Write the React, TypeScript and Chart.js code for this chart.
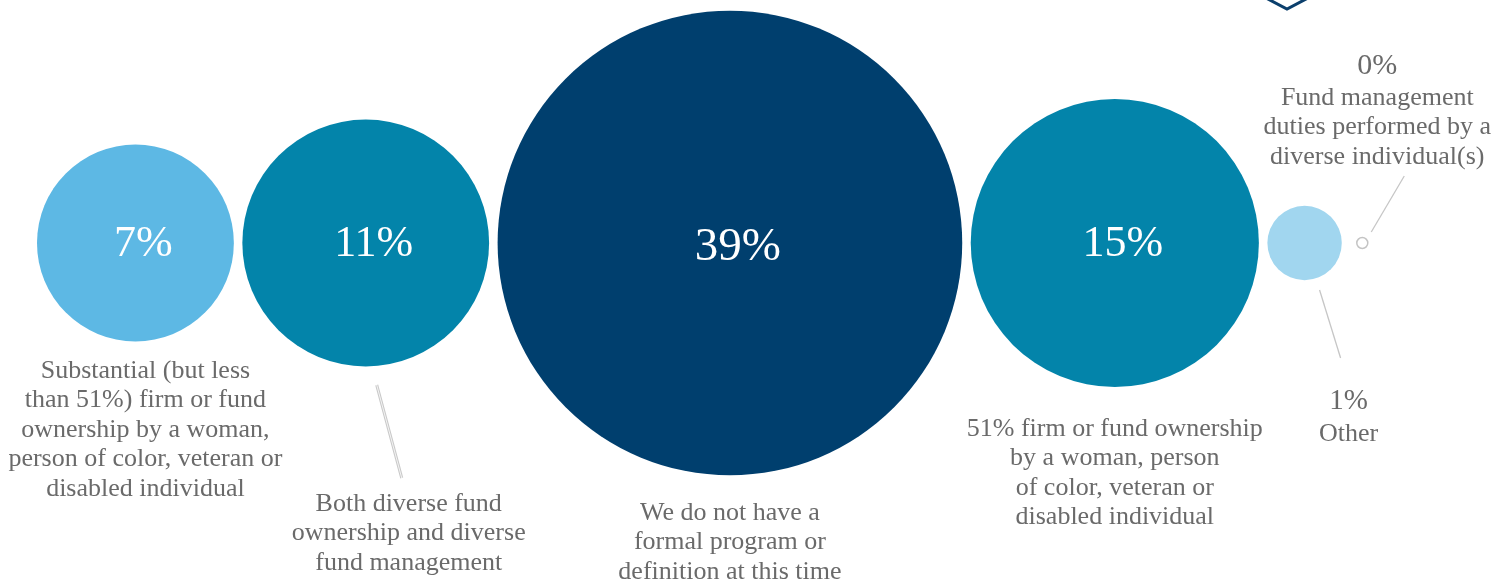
import { useEffect, useRef } from "react";
import { Chart, registerables } from "chart.js";
Chart.register(...registerables);

// ---- data ----
const categories: string[][] = [
  ["Substantial (but less", "than 51%) firm or fund", "ownership by a woman,", "person of color, veteran or", "disabled individual"],
  ["Both diverse fund", "ownership and diverse", "fund management"],
  ["We do not have a", "formal program or", "definition at this time"],
  ["51% firm or fund ownership", "by a woman, person", "of color, veteran or", "disabled individual"],
  ["Other"],
  ["Fund management", "duties performed by a", "diverse individual(s)"],
];
const values = [7, 11, 39, 15, 1, 0];
const valueLabels = ["7%", "11%", "39%", "15%", "1%", "0%"];

// ---- styles / layout ----
const fillColors = ["#5db8e4", "#0384aa", "#003f6e", "#0384aa", "#a1d6ef", "#ffffff"];
const W = 1510;
const H = 584;
const K = 37.2; // px radius per sqrt(percent): area proportional to value
const GAP = 8.5;
const LEFT = 37;
const CY = 243;
const ZERO_R = 5.5;
const ZERO_GAP = 15;
const FONT = "'Liberation Serif', 'DejaVu Serif', serif";
const TEXT = "#6a6a6a";
const LINE_H = 29.5;
const LABEL_SIZE = 26;

// label placement relative to each bubble centre
const labelLayout = [
  { inside: true, dx: 10, dy: 128 },
  { inside: true, dx: 43, dy: 261 },
  { inside: true, dx: 0, dy: 270 },
  { inside: true, dx: 0, dy: 186 },
  { inside: false, dx: 44, dy: 158, pctSize: 29, textDy: 191 },
  { inside: false, dx: 15, dy: -177, pctSize: 30, textDy: -145 },
];
const leaders: ({ x1: number; y1: number; x2: number; y2: number; double?: boolean } | null)[] = [
  null,
  { x1: 11, y1: 142, x2: 36, y2: 235, double: true },
  null,
  null,
  { x1: 15, y1: 47, x2: 36, y2: 115 },
  { x1: 42, y1: -67, x2: 9, y2: -11 },
];

function radiusOf(v: number) {
  return v > 0 ? K * Math.sqrt(v) : ZERO_R;
}

function buildPoints() {
  const pts: { x: number; y: number; r: number }[] = [];
  let prevX = 0;
  let prevR = 0;
  values.forEach((v, i) => {
    const r = radiusOf(v);
    let x: number;
    if (i === 0) x = LEFT + r;
    else x = prevX + prevR + (v > 0 ? GAP : ZERO_GAP) + r;
    pts.push({ x, y: CY, r });
    prevX = x;
    prevR = r;
  });
  return pts;
}

const labelsPlugin = {
  id: "bubbleLabels",
  afterDatasetsDraw(chart: any) {
    const ctx = chart.ctx as CanvasRenderingContext2D;
    const meta = chart.getDatasetMeta(0);
    ctx.save();
    // decorative chevron at top right
    ctx.strokeStyle = "#0b3f6c";
    ctx.lineWidth = 3;
    ctx.beginPath();
    ctx.moveTo(1266, -2);
    ctx.lineTo(1287, 9);
    ctx.lineTo(1308, -2);
    ctx.stroke();

    meta.data.forEach((el: any, i: number) => {
      const cx = el.x;
      const cy = el.y;
      const L = labelLayout[i];
      ctx.textAlign = "center";
      ctx.textBaseline = "middle";
      if (L.inside) {
        ctx.fillStyle = "#ffffff";
        const sz = values[i] > 30 ? 47 : 44;
        ctx.font = `${sz}px ${FONT}`;
        ctx.fillText(valueLabels[i], cx + 8, cy + (values[i] > 30 ? 5 : 1));
        ctx.fillStyle = TEXT;
        ctx.font = `${LABEL_SIZE}px ${FONT}`;
        categories[i].forEach((line, j) => {
          ctx.fillText(line, cx + L.dx, cy + L.dy + j * LINE_H);
        });
      } else {
        ctx.fillStyle = TEXT;
        ctx.font = `${L.pctSize}px ${FONT}`;
        ctx.fillText(valueLabels[i], cx + L.dx, cy + L.dy);
        ctx.font = `${LABEL_SIZE}px ${FONT}`;
        categories[i].forEach((line, j) => {
          ctx.fillText(line, cx + L.dx, cy + (L.textDy as number) + j * LINE_H);
        });
      }
      const ld = leaders[i];
      if (ld) {
        ctx.beginPath();
        ctx.moveTo(cx + ld.x1, cy + ld.y1);
        ctx.lineTo(cx + ld.x2, cy + ld.y2);
        if (ld.double) {
          ctx.strokeStyle = "#c9c9c9";
          ctx.lineWidth = 3;
          ctx.stroke();
          ctx.strokeStyle = "#f4f4f4";
          ctx.lineWidth = 1;
          ctx.stroke();
        } else {
          ctx.strokeStyle = "#c6c6c6";
          ctx.lineWidth = 1.3;
          ctx.stroke();
        }
      }
    });
    ctx.restore();
  },
};

export default function App() {
  const ref = useRef<HTMLCanvasElement | null>(null);
  useEffect(() => {
    if (!ref.current) return;
    const pts = buildPoints();
    const chart = new Chart(ref.current, {
      type: "bubble",
      data: {
        datasets: [
          {
            data: pts,
            backgroundColor: fillColors,
            borderColor: values.map((v) => (v > 0 ? "rgba(0,0,0,0)" : "#c4c4c4")),
            borderWidth: values.map((v) => (v > 0 ? 0 : 1.5)),
            hoverRadius: 0,
            clip: false as any,
          },
        ],
      },
      options: {
        animation: false,
        responsive: true,
        maintainAspectRatio: false,
        layout: { padding: 0, autoPadding: false },
        events: [],
        plugins: { legend: { display: false }, tooltip: { enabled: false } },
        scales: {
          x: { type: "linear", min: 0, max: W, display: false },
          y: { type: "linear", min: 0, max: H, reverse: true, display: false },
        },
      },
      plugins: [labelsPlugin],
    });
    return () => chart.destroy();
  }, []);
  return (
    <div style={{ position: "absolute", left: 0, top: 0, width: W, height: H, background: "#fff" }}>
      <canvas ref={ref} />
    </div>
  );
}
